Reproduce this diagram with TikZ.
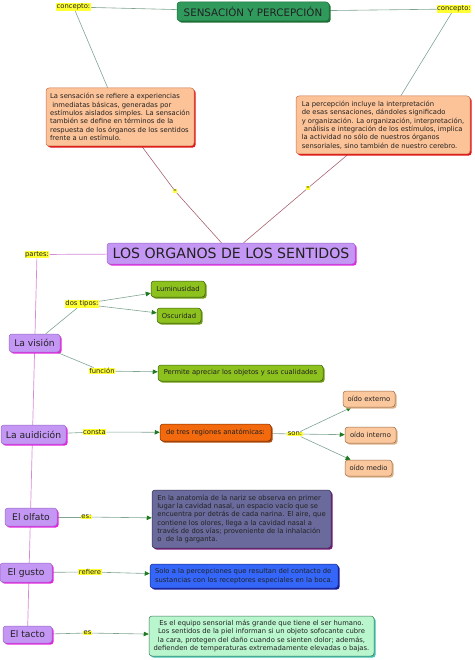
\documentclass[tikz,border=0pt]{standalone}
\usepackage{fontspec}
\setmainfont{DejaVu Sans}
\usetikzlibrary{shadows,arrows.meta,calc}
\pgfdeclarelayer{bg}
\pgfsetlayers{bg,main}
\definecolor{txt}{HTML}{222222}
\definecolor{ylw}{HTML}{FFFF33}
\definecolor{tgreen}{HTML}{2F9A5C}
\definecolor{tgreensh}{HTML}{1C7036}
\definecolor{peach}{HTML}{FDC398}
\definecolor{peachbd}{HTML}{C8704A}
\definecolor{redsh}{HTML}{E01515}
\definecolor{lav}{HTML}{C497F5}
\definecolor{lavbd}{HTML}{9A6AC8}
\definecolor{magsh}{HTML}{E524E0}
\definecolor{lime}{HTML}{8DC21E}
\definecolor{limesh}{HTML}{6E9A14}
\definecolor{limebd}{HTML}{3F5C10}
\definecolor{orng}{HTML}{F2690E}
\definecolor{orngsh}{HTML}{B04A08}
\definecolor{orngbd}{HTML}{7A2E04}
\definecolor{ear}{HTML}{FBC79D}
\definecolor{earsh}{HTML}{DDB48A}
\definecolor{earbd}{HTML}{9A6A48}
\definecolor{slate}{HTML}{6A6A9C}
\definecolor{slatesh}{HTML}{7A1878}
\definecolor{slatebd}{HTML}{33334F}
\definecolor{blu}{HTML}{3466FA}
\definecolor{blush}{HTML}{1A1AA0}
\definecolor{blubd}{HTML}{1A2A7A}
\definecolor{mint}{HTML}{B9F5CD}
\definecolor{mintsh}{HTML}{3FC2B2}
\definecolor{mintbd}{HTML}{3A7A5A}
\definecolor{lnk}{HTML}{7FA592}
\definecolor{pinkln}{HTML}{D88ADA}
\definecolor{brownln}{HTML}{A86470}
\definecolor{arrowgr}{HTML}{1E7A1E}
\tikzset{
  box/.style n args={3}{rounded corners=3pt, draw=#2, fill=#1, line width=0.5pt,
     general shadow={fill=#3, shadow xshift=1.6pt, shadow yshift=-1.6pt},
     inner sep=0pt, text=txt},
  lab/.style={fill=ylw, inner sep=0.5pt, text=txt, font=\fontsize{6.8}{7.5}\selectfont},
  small/.style={font=\fontsize{6.8}{8.3}\selectfont},
  mid/.style={font=\fontsize{9.2}{10}\selectfont},
  conn/.style={draw=lnk, line width=0.6pt},
  arr/.style={draw=lnk, line width=0.6pt, -{Triangle[length=5pt,width=4.5pt,fill=arrowgr,color=arrowgr]}},
  pink/.style={draw=pinkln, line width=0.7pt},
  brown/.style={draw=brownln, line width=0.6pt}
}
\begin{document}
\begin{tikzpicture}[x=1pt,y=-1pt]
\useasboundingbox (0,0) rectangle (474,660);
% top
\node[box={tgreen}{tgreensh}{tgreensh}, minimum width=152pt, minimum height=19pt, font=\fontsize{10.3}{11}\selectfont] (title) at (253,11.5) {SENSACIÓN Y PERCEPCIÓN};
\node[lab] (conL) at (73.5,7) {concepto:};
\node[lab] (conR) at (454,9) {concepto:};
\node[box={peach}{peachbd}{redsh}, minimum width=148pt, minimum height=58pt, small, align=left] (boxL) at (120,117)
 {La sensación se refiere a experiencias\\
 \ inmediatas básicas, generadas por\\
 estímulos aislados simples. La sensación\\
 también se define en términos de la\\
 respuesta de los órganos de los sentidos\\
 frente a un estímulo.};
\node[box={peach}{peachbd}{redsh}, minimum width=174pt, minimum height=58pt, small, align=left] (boxR) at (383,125)
 {La percepción incluye la interpretación\\
 de esas sensaciones, dándoles significado\\
 y organización. La organización, interpretación,\\
 \ análisis e integración de los estímulos, implica\\
 la actividad no sólo de nuestros órganos\\
 sensoriales, sino también de nuestro cerebro.};
\node[fill=ylw, inner sep=0.6pt, font=\fontsize{4}{4}\selectfont] (eqL) at (175,191) {=};
\node[fill=ylw, inner sep=0.6pt, font=\fontsize{4}{4}\selectfont] (eqR) at (308,188) {=};
\node[box={lav}{lavbd}{magsh}, minimum width=248pt, minimum height=21pt, font=\fontsize{14.1}{15}\selectfont] (los) at (231,253.5) {LOS ORGANOS DE LOS SENTIDOS};
\node[lab] (partes) at (37,254.5) {partes:};
% vision
\node[box={lav}{lavbd}{magsh}, minimum width=51pt, minimum height=18pt, mid] (vision) at (34.5,343) {La visión};
\node[lab] (dos) at (82,304) {dos tipos:};
\node[box={lime}{limebd}{limesh}, minimum width=54pt, minimum height=16pt, small] (lum) at (178,289) {Luminusidad};
\node[box={lime}{limebd}{limesh}, minimum width=44pt, minimum height=15pt, small] (osc) at (179,315.5) {Oscuridad};
\node[lab] (func) at (102,371) {función};
\node[box={lime}{limebd}{limesh}, minimum width=165pt, minimum height=16pt, small] (perm) at (240.5,373) {Permite apreciar los objetos y sus cualidades};
% audicion
\node[box={lav}{lavbd}{magsh}, minimum width=65pt, minimum height=19pt, mid] (auid) at (33.5,434.5) {La auidición};
\node[lab] (consta) at (94.5,432) {consta};
\node[box={orng}{orngbd}{orngsh}, minimum width=111pt, minimum height=17pt, small] (tres) at (215.5,432.5) {de tres regiones anatómicas:};
\node[lab] (son) at (295,434) {son:};
\node[box={ear}{earbd}{earsh}, minimum width=52pt, minimum height=16pt, small] (ext) at (369,399) {oído externo};
\node[box={ear}{earbd}{earsh}, minimum width=51pt, minimum height=16pt, small] (int) at (370.5,435) {oído interno};
\node[box={ear}{earbd}{earsh}, minimum width=47pt, minimum height=16pt, small] (med) at (368.5,468) {oído medio};
% olfato
\node[box={lav}{lavbd}{magsh}, minimum width=52pt, minimum height=18pt, mid] (olf) at (31,517) {El olfato};
\node[lab] (esA) at (86.5,517) {es:};
\node[box={slate}{slatebd}{slatesh}, minimum width=179pt, minimum height=58pt, small, align=left] (olfbox) at (241.5,519)
 {En la anatomía de la nariz se observa en primer\\
 lugar la cavidad nasal, un espacio vacío que se\\
 encuentra por detrás de cada narina. El aire, que\\
 contiene los olores, llega a la cavidad nasal a\\
 través de dos vías; proveniente de la inhalación\\
 o\ \ de la garganta.};
% gusto
\node[box={lav}{lavbd}{magsh}, minimum width=52pt, minimum height=19pt, mid] (gusto) at (26,572.5) {El gusto};
\node[lab] (ref) at (90,572) {refiere};
\node[box={blu}{blubd}{blush}, minimum width=188pt, minimum height=24pt, small, align=left] (gbox) at (244,576)
 {Solo a la percepciones que resultan del contacto de\\
 sustancias con los receptores especiales en la boca.};
% tacto
\node[box={lav}{lavbd}{magsh}, minimum width=49pt, minimum height=17pt, mid] (tacto) at (27.5,634.5) {El tacto};
\node[lab] (esB) at (87.5,633) {es};
\node[box={mint}{mintbd}{mintsh}, minimum width=225pt, minimum height=40pt, small, align=center] (tbox) at (261.5,636)
 {Es el equipo sensorial más grande que tiene el ser humano.\\
 Los sentidos de la piel informan si un objeto sofocante cubre\\
 la cara, protegen del daño cuando se sienten dolor; además,\\
 defienden de temperaturas extremadamente elevadas o bajas.};
% connectors
\begin{pgfonlayer}{bg}
\draw[conn] (title) -- (conL);
\draw[conn] (title) -- (conR);
\draw[conn] (conL) -- (boxL);
\draw[conn] (conR) -- (boxR);
\draw[brown] (boxL) -- (eqL);
\draw[brown] (eqL) -- (los);
\draw[brown] (boxR) -- (eqR);
\draw[brown] (eqR) -- (los);
\draw[pink] (los) -- (partes);
\draw[pink] (partes) -- (tacto);
\draw[conn] (vision) -- (dos);
\draw[arr] (dos) -- (lum);
\draw[arr] (dos) -- (osc);
\draw[conn] (vision) -- (func);
\draw[arr] (func) -- (perm);
\draw[conn] (auid) -- (consta);
\draw[arr] (consta) -- (tres);
\draw[conn] (tres) -- (son);
\draw[arr] (son) -- (ext);
\draw[arr] (son) -- (int);
\draw[arr] (son) -- (med);
\draw[conn] (olf) -- (esA);
\draw[arr] (esA) -- (olfbox);
\draw[conn] (gusto) -- (ref);
\draw[arr] (ref) -- (gbox);
\draw[conn] (tacto) -- (esB);
\draw[arr] (esB) -- (tbox);
\end{pgfonlayer}
\end{tikzpicture}
\end{document}
